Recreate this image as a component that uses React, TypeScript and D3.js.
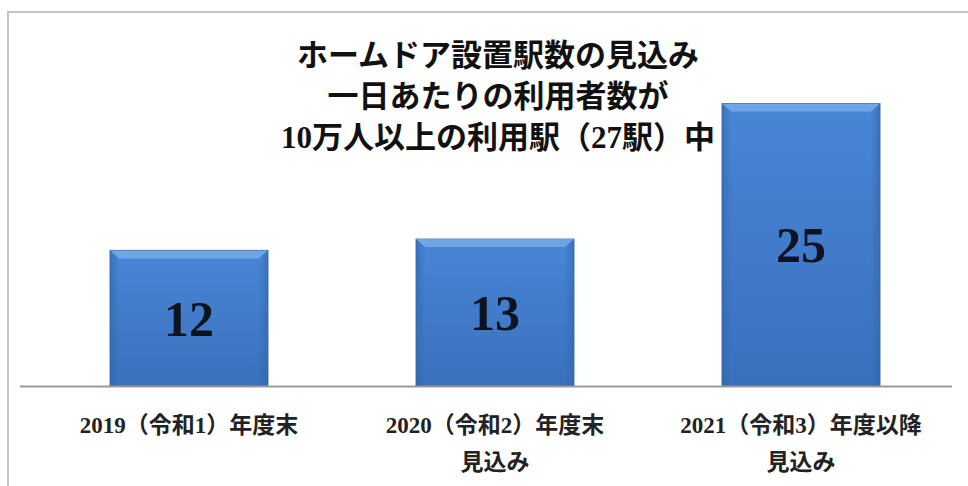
import { useEffect, useRef } from 'react'
import * as d3 from 'd3'

const categories = ['2019', '2020', '2021']
const labelLines = [
  ['2019（令和1）年度末'],
  ['2020（令和2）年度末', '見込み'],
  ['2021（令和3）年度以降', '見込み'],
]
const values = [12, 13, 25]
const titleLines = ['ホームドア設置駅数の見込み', '一日あたりの利用者数が', '10万人以上の利用駅（27駅）中']

const W = 968
const H = 486
const FONT = "'Liberation Serif', 'Noto Sans CJK JP', serif"

export default function App() {
  const svgRef = useRef<SVGSVGElement>(null)

  useEffect(() => {
    if (!svgRef.current) return
    const svg = d3.select(svgRef.current)
    svg.selectAll('*').remove()

    const x = d3.scaleBand<string>().domain(categories).range([36, 954]).paddingInner(0.484).paddingOuter(0.242)
    const y = d3.scaleLinear().domain([0, 30]).range([386, 47])

    const defs = svg.append('defs')
    const grad = defs.append('linearGradient').attr('id', 'barFill').attr('x1', 0).attr('y1', 0).attr('x2', 0).attr('y2', 1)
    grad.append('stop').attr('offset', '0%').attr('stop-color', '#4886d6')
    grad.append('stop').attr('offset', '100%').attr('stop-color', '#3a71bd')
    const side = defs.append('linearGradient').attr('id', 'sideFill').attr('x1', 0).attr('y1', 0).attr('x2', 1).attr('y2', 0)
    side.append('stop').attr('offset', '0%').attr('stop-color', '#2f62a8').attr('stop-opacity', 0.55)
    side.append('stop').attr('offset', '6%').attr('stop-color', '#2f62a8').attr('stop-opacity', 0)
    side.append('stop').attr('offset', '94%').attr('stop-color', '#2f62a8').attr('stop-opacity', 0)
    side.append('stop').attr('offset', '100%').attr('stop-color', '#2f62a8').attr('stop-opacity', 0.55)

    // frame
    svg.append('rect').attr('width', W).attr('height', H).attr('fill', '#fff')
    svg.append('path')
      .attr('d', `M8,${H} L8,12 L${W},12`)
      .attr('fill', 'none')
      .attr('stroke', '#c4c4c4')
      .attr('stroke-width', 2)

    // title
    const title = svg.append('text')
      .attr('text-anchor', 'middle')
      .style('font-family', FONT)
      .style('font-weight', 'bold')
      .style('font-size', '31px')
      .attr('fill', '#111')
    titleLines.forEach((t, i) => {
      title.append('tspan').attr('x', 498).attr('y', 66 + i * 41).text(t)
    })

    const bw = x.bandwidth()
    const bars = svg.selectAll('.bar').data(values).enter().append('g').attr('class', 'bar')

    bars.append('rect')
      .attr('x', (d, i) => x(categories[i])!)
      .attr('y', (d) => y(d))
      .attr('width', bw)
      .attr('height', (d) => y(0) - y(d))
      .attr('fill', 'url(#barFill)')
      .attr('stroke', '#3565a6')
      .attr('stroke-width', 1)

    bars.append('rect')
      .attr('x', (d, i) => x(categories[i])!)
      .attr('y', (d) => y(d))
      .attr('width', bw)
      .attr('height', (d) => y(0) - y(d))
      .attr('fill', 'url(#sideFill)')

    // top bevel
    bars.append('path')
      .attr('d', (d, i) => {
        const x0 = x(categories[i])!
        const y0 = y(d)
        return `M${x0},${y0} L${x0 + bw},${y0} L${x0 + bw - 9},${y0 + 8} L${x0 + 9},${y0 + 8} Z`
      })
      .attr('fill', '#76abe8')
      .attr('opacity', 0.85)

    bars.append('text')
      .attr('x', (d, i) => x(categories[i])! + bw / 2)
      .attr('y', (d) => (y(d) + y(0)) / 2)
      .attr('dy', '0.35em')
      .attr('text-anchor', 'middle')
      .style('font-family', FONT)
      .style('font-weight', 'bold')
      .style('font-size', '50px')
      .attr('fill', '#0d1420')
      .text((d) => d)

    // axis line
    svg.append('line')
      .attr('x1', 20).attr('x2', 952)
      .attr('y1', y(0) + 0.5).attr('y2', y(0) + 0.5)
      .attr('stroke', '#9a9a9a')
      .attr('stroke-width', 2)

    // category labels
    labelLines.forEach((lines, i) => {
      const t = svg.append('text')
        .attr('text-anchor', 'middle')
        .style('font-family', FONT)
        .style('font-weight', 'bold')
        .style('font-size', '23px')
        .attr('fill', '#222')
      lines.forEach((l, j) => {
        t.append('tspan').attr('x', x(categories[i])! + bw / 2).attr('y', 433 + j * 37).text(l)
      })
    })
  }, [])

  return (
    <svg
      ref={svgRef}
      width={W}
      height={H}
      style={{ position: 'absolute', left: 0, top: 0, display: 'block' }}
    />
  )
}
